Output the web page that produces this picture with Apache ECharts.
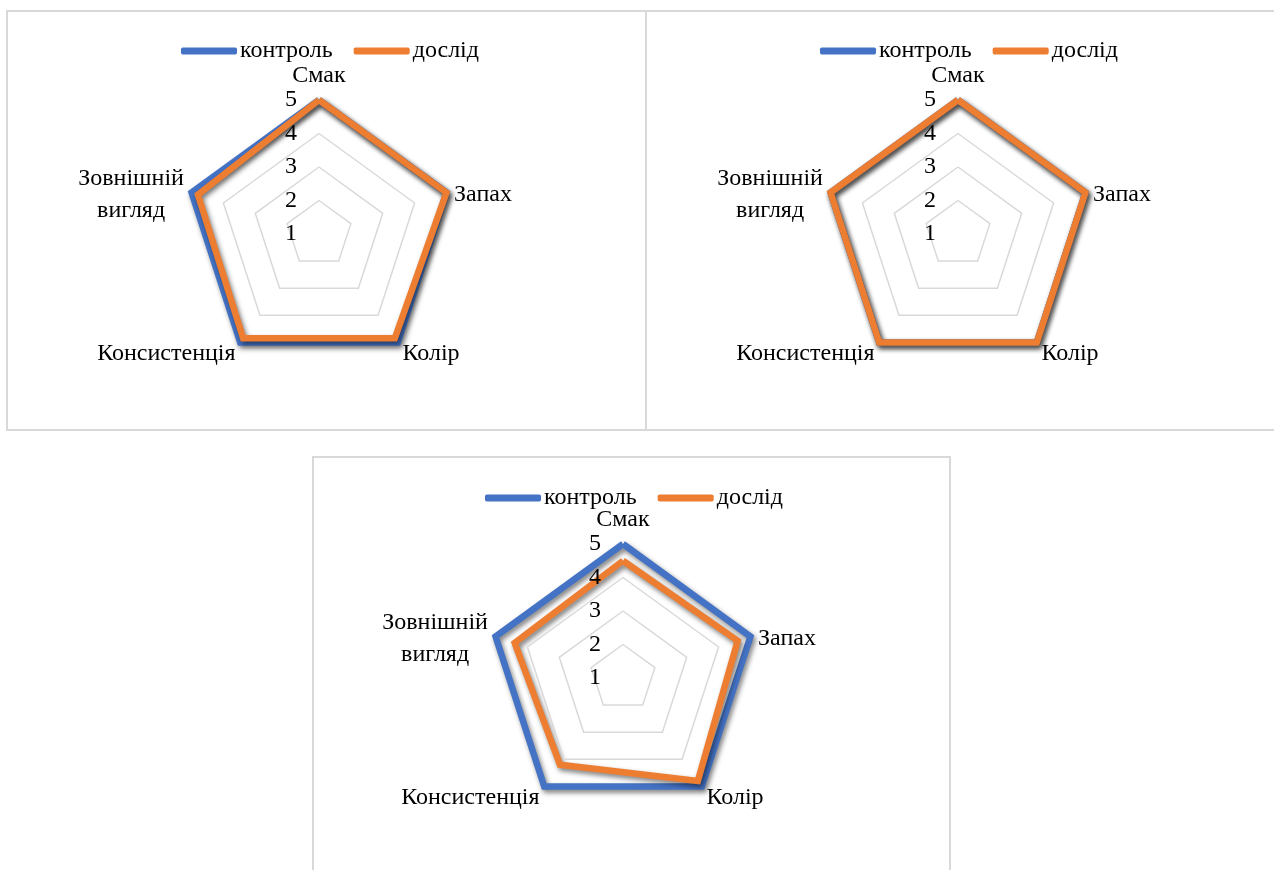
<!DOCTYPE html>
<html>
<head>
<meta charset="utf-8">
<script src="https://cdn.jsdelivr.net/npm/echarts@6/dist/echarts.min.js"></script>
<style>
html,body{margin:0;padding:0;background:#fff;}
#c{width:1274px;height:870px;}
</style>
</head>
<body>
<div id="c"></div>
<script>
// Categories in the reference's clockwise order starting at the top
const categories = ['Смак', 'Запах', 'Колір', 'Консистенція', 'Зовнішній\nвигляд'];
const seriesNames = ['контроль', 'дослід'];
const tickMin = 1;
const tickMax = 5;

// Chart 1
const control1 = [5, 5, 5, 5, 5];
const trial1   = [5, 5, 4.85, 4.85, 4.8];
// Chart 2
const control2 = [5, 5, 5, 5, 5];
const trial2   = [5, 5, 5, 5, 5];
// Chart 3
const control3 = [5, 5, 5, 5, 5];
const trial3   = [4.5, 4.6, 4.8, 4.2, 4.4];

const FONT = 'Liberation Serif';
const FS = 24;
const BLUE = '#4472C4';
const ORANGE = '#ED7D31';

// ECharts places indicators counter-clockwise; the reference runs clockwise.
const order = [0, 4, 3, 2, 1];
const reorder = arr => order.map(i => arr[i]);

function makeRadar(center) {
  return {
    center: center,
    radius: 134,
    startAngle: 90,
    splitNumber: 4,
    shape: 'polygon',
    nameGap: 8,
    z: 3,
    indicator: order.map((i, k) => {
      const ind = { name: categories[i], min: tickMin, max: tickMax };
      if (k === 0) ind.axisLabel = { show: true };
      return ind;
    }),
    axisName: {
      color: '#000',
      fontFamily: FONT,
      fontSize: FS,
      padding: [6, 0, -4, 0],
      formatter: function (name) {
        const lines = name.split('\n');
        const key = lines.length > 1 ? 'm' : 's';
        return lines.map(l => '{' + key + '|' + l + '}').join('\n');
      },
      rich: {
        m: { align: 'center', fontFamily: FONT, fontSize: FS, color: '#000', lineHeight: 32 },
        s: { fontFamily: FONT, fontSize: FS, color: '#000', lineHeight: 24 }
      }
    },
    axisLine: { show: false },
    axisTick: { show: false },
    axisLabel: { show: false, color: '#000', fontFamily: FONT, fontSize: FS, margin: 22 },
    splitLine: { lineStyle: { color: ['#d9d9d9', '#d9d9d9', '#d9d9d9', '#d9d9d9', 'rgba(0,0,0,0)'], width: 1.5 } },
    splitArea: { show: false }
  };
}

function makeLegend(left, top) {
  return {
    left: left, top: top,
    data: seriesNames,
    icon: 'roundRect',
    itemWidth: 56, itemHeight: 7,
    itemGap: 21,
    textStyle: { color: '#000', fontFamily: FONT, fontSize: FS, padding: [0, 0, 0, -2] },
    selectedMode: false
  };
}

function lineStyle(color) {
  return {
    color: color, width: 6.5, join: 'miter',
    shadowColor: 'rgba(0,0,0,0.5)', shadowBlur: 5, shadowOffsetX: 2, shadowOffsetY: 3
  };
}

function makeSeries(radarIndex, ctrl, trial) {
  return {
    type: 'radar',
    radarIndex: radarIndex,
    symbol: 'none',
    silent: true,
    z: 2,
    data: [
      { name: seriesNames[0], value: reorder(ctrl), lineStyle: lineStyle(BLUE), itemStyle: { color: BLUE } },
      { name: seriesNames[1], value: reorder(trial), lineStyle: lineStyle(ORANGE), itemStyle: { color: ORANGE } }
    ]
  };
}

const chart = echarts.init(document.getElementById('c'), null, { renderer: 'canvas' });
chart.setOption({
  animation: false,
  color: [BLUE, ORANGE],
  graphic: [
    { type: 'rect', shape: { x: 7, y: 11, width: 639, height: 419 }, style: { fill: 'none', stroke: '#d9d9d9', lineWidth: 2 }, z: -1 },
    { type: 'rect', shape: { x: 646, y: 11, width: 640, height: 419 }, style: { fill: 'none', stroke: '#d9d9d9', lineWidth: 2 }, z: -1 },
    { type: 'rect', shape: { x: 313, y: 457, width: 637, height: 430 }, style: { fill: 'none', stroke: '#d9d9d9', lineWidth: 2 }, z: -1 }
  ],
  legend: [makeLegend(176, 34), makeLegend(815, 34), makeLegend(480, 481)],
  radar: [makeRadar([319, 234]), makeRadar([958, 234]), makeRadar([623, 678])],
  series: [makeSeries(0, control1, trial1), makeSeries(1, control2, trial2), makeSeries(2, control3, trial3)]
});
</script>
</body>
</html>
